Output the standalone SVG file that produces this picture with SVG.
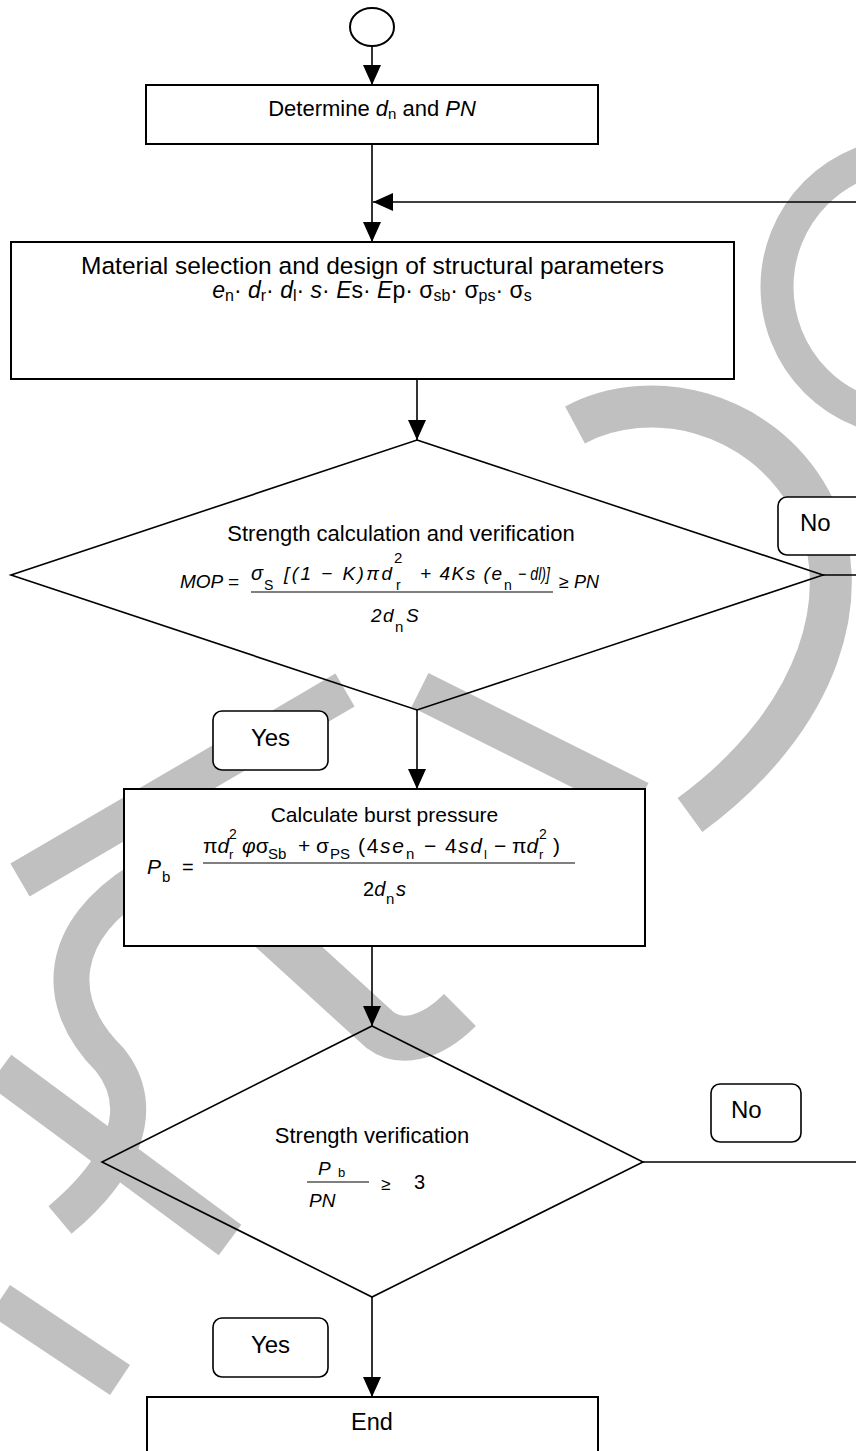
<svg xmlns="http://www.w3.org/2000/svg" width="856" height="1451" viewBox="0 0 856 1451">
<style>
.wm{fill:none;stroke:#c0c0c0;stroke-linecap:butt}
.box{fill:#fff;stroke:#000;stroke-width:2}
.dia{fill:none;stroke:#000;stroke-width:1.6}
.lbl{fill:#fff;stroke:#000;stroke-width:1.6}
.ln{fill:none;stroke:#000;stroke-width:1.6}
.fr{stroke:#000;stroke-width:1.2}
text{font-family:"Liberation Sans",Arial,sans-serif;fill:#000}
.i{font-style:italic}
</style>
<defs>
<marker id="ah" markerWidth="20" markerHeight="18" refX="20" refY="9" orient="auto" markerUnits="userSpaceOnUse"><path d="M0,0 L20,9 L0,18 z" fill="#000"/></marker>
</defs>
<rect width="856" height="1451" fill="#fff"/>
<g id="watermark">
<circle class="wm" cx="910" cy="287" r="133" stroke-width="33"/>
<path class="wm" stroke-width="42" d="M575 425 C650 385 760 410 810 500 C860 590 820 720 690 815"/>
<path class="wm" stroke-width="38" d="M420 690 L640 800"/>
<path class="wm" stroke-width="38" d="M20 880 L345 690"/>
<path class="wm" stroke-width="45" d="M150 820 L380 1030 C400 1045 430 1040 460 1010"/>
<path class="wm" stroke-width="36" d="M140 880 C60 930 50 1000 110 1060 C150 1110 120 1170 60 1220"/>
<path class="wm" stroke-width="38" d="M0 1070 L230 1240"/>
<path class="wm" stroke-width="36" d="M0 1300 L120 1380"/>
</g>
<g id="connectors">
<path class="ln" d="M372 46 V85" marker-end="url(#ah)"/>
<path class="ln" d="M372 144 V242" marker-end="url(#ah)"/>
<path class="ln" d="M856 202 H373" marker-end="url(#ah)"/>
<path class="ln" d="M417 379 V440" marker-end="url(#ah)"/>
<path class="ln" d="M823 575 H856"/>
<path class="ln" d="M417 710 V789" marker-end="url(#ah)"/>
<path class="ln" d="M372 946 V1026" marker-end="url(#ah)"/>
<path class="ln" d="M643 1162 H856"/>
<path class="ln" d="M372 1297 V1397" marker-end="url(#ah)"/>
</g>
<g id="start"><ellipse cx="372" cy="27" rx="22" ry="19" fill="#fff" stroke="#000" stroke-width="2"/></g>
<g id="determine">
<rect class="box" x="146" y="85" width="452" height="59"/>
<text x="372" y="116" text-anchor="middle" font-size="22">Determine <tspan class="i">d</tspan><tspan font-size="15" dy="3">n</tspan><tspan dy="-3"> and </tspan><tspan class="i">PN</tspan></text>
</g>
<g id="material">
<rect class="box" x="11" y="242" width="723" height="137"/>
<text x="372.5" y="274" text-anchor="middle" font-size="24.5">Material selection and design of structural parameters</text>
<text x="372" y="298" text-anchor="middle" font-size="23"><tspan class="i">e</tspan><tspan font-size="16" dy="3">n</tspan><tspan dy="-3">· </tspan><tspan class="i">d</tspan><tspan font-size="16" dy="3">r</tspan><tspan dy="-3">· </tspan><tspan class="i">d</tspan><tspan font-size="16" dy="3">l</tspan><tspan dy="-3">· </tspan><tspan class="i">s</tspan>· <tspan class="i">E</tspan>s· <tspan class="i">E</tspan>p· σ<tspan font-size="16" dy="3">sb</tspan><tspan dy="-3">· σ</tspan><tspan font-size="16" dy="3">ps</tspan><tspan dy="-3">· σ</tspan><tspan font-size="16" dy="3">s</tspan></text>
</g>
<g id="check1">
<polygon class="dia" points="417,440 823,575 417,710 11,575"/>
<text x="401" y="541" text-anchor="middle" font-size="22">Strength calculation and verification</text>
<text class="i" x="180" y="588" font-size="19">MOP =</text>
<text class="i" x="251" y="580" font-size="20">σ</text>
<text x="264" y="590" font-size="14">S</text>
<text class="i" x="284" y="580" font-size="19" textLength="108">[(1 − K)πd</text>
<text x="394" y="563" font-size="15">2</text>
<text x="396" y="590" font-size="14">r</text>
<text class="i" x="420" y="580" font-size="19" textLength="82">+ 4Ks (e</text>
<text x="504" y="590" font-size="14">n</text>
<text class="i" x="518" y="580" font-size="18" textLength="32" lengthAdjust="spacingAndGlyphs">− dl)]</text>
<line class="fr" x1="251" y1="592" x2="553" y2="592"/>
<text class="i" x="371" y="622" font-size="19">2</text>
<text class="i" x="383" y="622" font-size="19">d</text>
<text x="395" y="632" font-size="15">n</text>
<text class="i" x="406" y="622" font-size="19">S</text>
<text class="i" x="559" y="588" font-size="18">≥ PN</text>
</g>
<g id="no1"><rect class="lbl" x="778" y="497" width="100" height="58" rx="9"/><text x="800" y="531" font-size="24">No</text></g>
<g id="yes1"><rect class="lbl" x="213" y="711" width="115" height="59" rx="9"/><text x="270.5" y="746" text-anchor="middle" font-size="24">Yes</text></g>
<g id="burst">
<rect class="box" x="124" y="789" width="521" height="157"/>
<text x="384.5" y="822" text-anchor="middle" font-size="21">Calculate burst pressure</text>
<text class="i" x="147" y="874" font-size="21">P</text>
<text x="162" y="882" font-size="15">b</text>
<text x="182" y="874" font-size="20">=</text>
<text x="203" y="853" font-size="21">π<tspan class="i">d</tspan></text>
<text x="229" y="839" font-size="14">2</text>
<text x="229" y="859" font-size="13">r</text>
<text x="242" y="853" font-size="21"><tspan class="i">φ</tspan>σ</text>
<text x="268" y="859" font-size="15">Sb</text>
<text x="298" y="853" font-size="21">+ σ</text>
<text x="330" y="859" font-size="15">PS</text>
<text x="358" y="853" font-size="21" textLength="46">(4<tspan class="i">se</tspan></text>
<text x="406" y="859" font-size="15">n</text>
<text x="424" y="853" font-size="21" textLength="58">− 4<tspan class="i">sd</tspan></text>
<text x="484" y="859" font-size="13">l</text>
<text x="494" y="853" font-size="21">− π<tspan class="i">d</tspan></text>
<text x="539" y="839" font-size="14">2</text>
<text x="539" y="859" font-size="13">r</text>
<text x="553" y="853" font-size="21">)</text>
<line class="fr" x1="203" y1="863" x2="575" y2="863"/>
<text x="363" y="896" font-size="20">2<tspan class="i">d</tspan></text>
<text x="386" y="904" font-size="15">n</text>
<text class="i" x="396" y="896" font-size="20">s</text>
</g>
<g id="check2">
<polygon class="dia" points="372,1026 643,1162 372,1297 102,1162"/>
<text x="372" y="1143" text-anchor="middle" font-size="22">Strength verification</text>
<text class="i" x="318" y="1175" font-size="19">P</text>
<text x="338" y="1177" font-size="13">b</text>
<line class="fr" x1="307" y1="1182" x2="369" y2="1182"/>
<text class="i" x="309" y="1207" font-size="19">PN</text>
<text x="381" y="1190" font-size="17">≥</text>
<text x="414" y="1189" font-size="20">3</text>
</g>
<g id="no2"><rect class="lbl" x="711" y="1084" width="90" height="58" rx="9"/><text x="731" y="1118" font-size="24">No</text></g>
<g id="yes2"><rect class="lbl" x="213" y="1318" width="115" height="59" rx="9"/><text x="270.5" y="1353" text-anchor="middle" font-size="24">Yes</text></g>
<g id="end"><rect class="box" x="147" y="1397" width="451" height="80"/><text x="372" y="1430" text-anchor="middle" font-size="23.5">End</text></g>
</svg>
